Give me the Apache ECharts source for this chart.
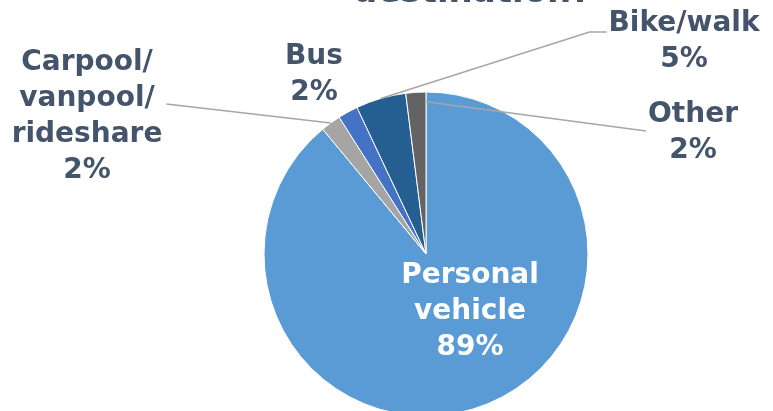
<!DOCTYPE html>
<html>
<head>
    <meta charset="utf-8">
    <title>destination?</title>
    <script src="https://cdn.jsdelivr.net/npm/echarts@6/dist/echarts.min.js"></script>
    <style>
        html, body { margin: 0; padding: 0; background: #fff; }
        #chart1 { width: 773px; height: 411px; }
    </style>
</head>
<body>
    <div id="chart1"></div>
    <script type="text/javascript">
        // 数据
        var categories = ['Personal\nvehicle', 'Carpool/\nvanpool/\nrideshare', 'Bus', 'Bike/walk', 'Other'];
        var shares = [89, 2, 2, 5, 2];
        var colors = ['#5B9BD5', '#A5A5A5', '#4472C4', '#255E91', '#636363'];

        var CX = 426, CY = 254, R = 162;
        // label centres (px), same order as categories
        var labelPos = [[470, 312], [87, 117], [314, 75], [684, 42], [693, 133]];
        // leader: [label side, dy from label centre, horizontal stub, position inside slice (0..1), radius factor]
        var leader = [null, ['right', -13, 0, 0.5, 1], null, ['left', -10, 17, 0.5, 1], ['left', -2, 0, 1, 0.94]];

        var total = shares.reduce(function (a, b) { return a + b; }, 0);
        var cum = [];
        shares.reduce(function (acc, v, i) { cum[i] = acc; return acc + v; }, 0);

        var myChart1 = echarts.init(document.getElementById('chart1'));

        // 扇区
        var sliceData = categories.map(function (name, i) {
            return { name: name, value: shares[i], itemStyle: { color: colors[i] } };
        });
        // 标签 + 引导线 (透明扇区, 画在上层)
        var labelData = categories.map(function (name, i) {
            return {
                name: name,
                value: shares[i],
                label: { color: i === 0 ? '#ffffff' : '#44546A' },
                labelLine: { show: leader[i] !== null }
            };
        });

        myChart1.setOption({
            animation: false,
            title: {
                text: 'destination?',
                left: 467,
                textAlign: 'center',
                top: -29,
                textStyle: {
                    fontFamily: 'DejaVu Sans',
                    fontWeight: 'bold',
                    fontSize: 34,
                    color: '#44546A'
                }
            },
            series: [{
                type: 'pie',
                center: [CX, CY],
                radius: R,
                startAngle: 90,
                clockwise: true,
                silent: true,
                itemStyle: { borderColor: '#ffffff', borderWidth: 1 },
                label: { show: false },
                labelLine: { show: false },
                data: sliceData
            }, {
                type: 'pie',
                z: 5,
                center: [CX, CY],
                radius: R,
                startAngle: 90,
                clockwise: true,
                silent: true,
                itemStyle: { color: 'rgba(0,0,0,0)', borderWidth: 0 },
                label: {
                    show: true,
                    position: 'outside',
                    formatter: function (p) { return p.name + '\n' + p.value + '%'; },
                    fontFamily: 'DejaVu Sans',
                    fontWeight: 'bold',
                    fontSize: 28,
                    lineHeight: 36,
                    align: 'center'
                },
                labelLine: {
                    show: true,
                    lineStyle: { color: '#A6A6A6', width: 1.5 }
                },
                labelLayout: function (params) {
                    var i = params.dataIndex;
                    var p = labelPos[i];
                    var out = { x: p[0], y: p[1], align: 'center', verticalAlign: 'middle' };
                    var l = leader[i];
                    if (l) {
                        var w = params.labelRect.width;
                        var f = (cum[i] + shares[i] * l[3]) / total;
                        var a = f * 2 * Math.PI;
                        var start = [CX + R * l[4] * Math.sin(a), CY - R * l[4] * Math.cos(a)];
                        var ex = l[0] === 'right' ? p[0] + w / 2 + 4 : p[0] - w / 2 - 2;
                        var ey = p[1] + l[1];
                        out.labelLinePoints = [start, [ex - l[2], ey], [ex, ey]];
                    }
                    return out;
                },
                data: labelData
            }]
        });
    </script>
</body>
</html>
